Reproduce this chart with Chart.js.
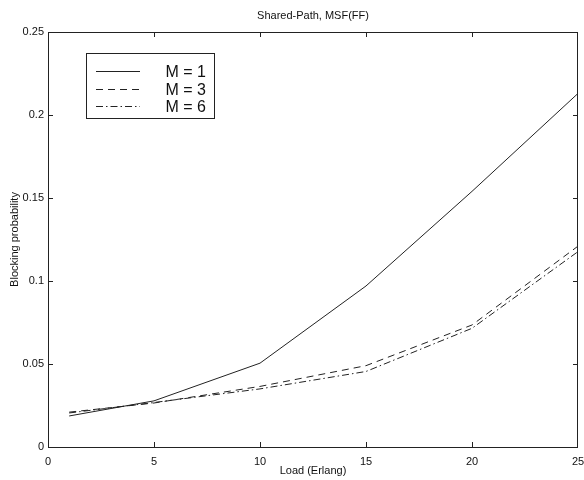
<!DOCTYPE html>
<html>
<head>
<meta charset="utf-8">
<script src="https://cdn.jsdelivr.net/npm/chart.js@4"></script>
<style>
  html, body { margin: 0; padding: 0; background: #fff; }
  #wrap { width: 584px; height: 480px; }
</style>
</head>
<body>
<div id="wrap"><canvas id="chart" width="584" height="480"></canvas></div>
<script>
// values
const loads = [1, 5, 10, 15, 20, 25];
const m1 = [0.0187, 0.0278, 0.0505, 0.097, 0.154, 0.213];
const m3 = [0.0210, 0.0265, 0.0365, 0.049, 0.0735, 0.121];
const m6 = [0.0205, 0.0268, 0.0350, 0.0455, 0.0715, 0.1177];
const seriesLabels = ["M = 1", "M = 3", "M = 6"];
const xTicks = [0, 5, 10, 15, 20, 25];
const yTicks = [0, 0.05, 0.1, 0.15, 0.2, 0.25];

const FONT = "'Liberation Sans', Arial, Helvetica, sans-serif";
const INK = "#222";

function pts(vals) {
    return loads.map((x, i) => ({ x: x, y: vals[i] }));
}

// matlab-like frame, inward ticks, title, axis labels, legend box
const matlabLook = {
    id: "matlabLook",
    afterDraw(chart) {
        const ctx = chart.ctx;
        const a = chart.chartArea;
        const xs = chart.scales.x, ys = chart.scales.y;
        const t = 5;
        ctx.save();
        ctx.strokeStyle = INK;
        ctx.lineWidth = 1;
        ctx.setLineDash([]);
        ctx.strokeRect(a.left + 0.5, a.top + 0.5, a.right - a.left - 1, a.bottom - a.top);
        ctx.beginPath();
        xTicks.slice(1, -1).forEach(v => {
            const px = Math.round(xs.getPixelForValue(v)) + 0.5;
            ctx.moveTo(px, a.bottom); ctx.lineTo(px, a.bottom - t);
            ctx.moveTo(px, a.top); ctx.lineTo(px, a.top + t);
        });
        yTicks.slice(1, -1).forEach(v => {
            const py = Math.round(ys.getPixelForValue(v)) + 0.5;
            ctx.moveTo(a.left, py); ctx.lineTo(a.left + t, py);
            ctx.moveTo(a.right, py); ctx.lineTo(a.right - t, py);
        });
        ctx.stroke();

        ctx.fillStyle = "#111";
        ctx.font = "11px " + FONT;
        ctx.textAlign = "center";
        ctx.textBaseline = "middle";
        const cx = (a.left + a.right) / 2;
        ctx.fillText("Shared-Path, MSF(FF)", cx, 16);
        ctx.fillText("Load (Erlang)", cx, 471);
        ctx.save();
        ctx.translate(15, (a.top + a.bottom) / 2);
        ctx.rotate(-Math.PI / 2);
        ctx.fillText("Blocking probability", 0, 0);
        ctx.restore();

        // legend
        ctx.fillStyle = "#fff";
        ctx.fillRect(86, 53, 128, 65);
        ctx.strokeRect(86.5, 53.5, 128, 65);
        ctx.font = "16px " + FONT;
        ctx.textAlign = "right";
        ctx.fillStyle = "#111";
        chart.data.datasets.forEach((ds, i) => {
            const y = Math.round(71 + i * 17.5) + 0.5;
            ctx.strokeStyle = ds.borderColor;
            ctx.setLineDash(ds.borderDash || []);
            ctx.beginPath();
            ctx.moveTo(96, y); ctx.lineTo(140, y);
            ctx.stroke();
            ctx.fillText(ds.label, 206, y + 1);
        });
        ctx.restore();
    }
};

const ctx = document.getElementById("chart").getContext("2d");
const chart = new Chart(ctx, {
    type: "line",
    data: {
        datasets: [
            { label: seriesLabels[0], data: pts(m1), borderColor: INK, borderWidth: 1, borderDash: [], pointRadius: 0, tension: 0 },
            { label: seriesLabels[1], data: pts(m3), borderColor: INK, borderWidth: 1, borderDash: [7, 5], pointRadius: 0, tension: 0 },
            { label: seriesLabels[2], data: pts(m6), borderColor: INK, borderWidth: 1, borderDash: [7, 3, 1.5, 3], pointRadius: 0, tension: 0 }
        ]
    },
    options: {
        responsive: false,
        animation: false,
        layout: { autoPadding: false, padding: { top: 32, right: 6, left: 0, bottom: 0 } },
        plugins: {
            legend: { display: false },
            title: { display: false },
            tooltip: { enabled: false }
        },
        scales: {
            x: {
                type: "linear",
                min: 0,
                max: 25,
                afterBuildTicks: s => { s.ticks = xTicks.map(v => ({ value: v })); },
                afterFit: s => { s.height = 33; s.paddingLeft = 0; s.paddingRight = 0; },
                grid: { display: false, drawTicks: false },
                border: { display: false },
                ticks: { color: "#111", font: { family: FONT, size: 11 }, padding: 8, maxRotation: 0 }
            },
            y: {
                type: "linear",
                min: 0,
                max: 0.25,
                afterBuildTicks: s => { s.ticks = yTicks.map(v => ({ value: v })); },
                afterFit: s => { s.width = 48; s.paddingTop = 0; s.paddingBottom = 0; },
                grid: { display: false, drawTicks: false },
                border: { display: false },
                ticks: { color: "#111", font: { family: FONT, size: 11 }, padding: 4,
                         callback: v => String(+v.toFixed(2)) }
            }
        }
    },
    plugins: [matlabLook]
});
</script>
</body>
</html>
